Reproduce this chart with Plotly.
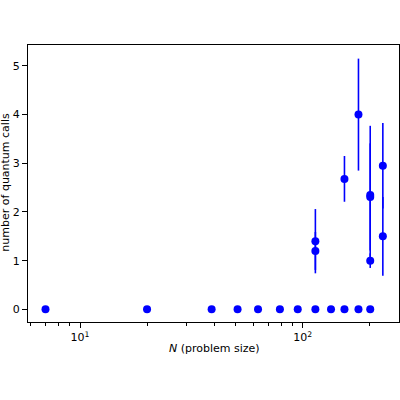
import plotly.graph_objects as go

# problem sizes and mean number of quantum calls with std error
N = [7, 20, 39, 51, 63, 79, 95, 114, 134, 154, 178, 201,
     114, 114, 154, 178, 201, 201, 201, 229, 229]
calls = [0, 0, 0, 0, 0, 0, 0, 0, 0, 0, 0, 0,
         1.40, 1.20, 2.68, 4.00, 2.35, 2.31, 1.00, 2.95, 1.50]
err = [0, 0, 0, 0, 0, 0, 0, 0, 0, 0, 0, 0,
       0.66, 0.39, 0.47, 1.15, 1.42, 1.10, 0.15, 0.88, 0.81]

x_major = [10, 100]
x_major_text = ["10<sup>1</sup>", "10<sup>2</sup>"]
x_minor = [6, 7, 8, 9, 20, 30, 40, 50, 60, 70, 80, 90, 200]
y_ticks = [0, 1, 2, 3, 4, 5]

x_title = "<i>N</i> (problem size)"
y_title = "number of quantum calls"

fig = go.Figure()
fig.add_trace(go.Scatter(
    x=N, y=calls, mode="markers",
    marker=dict(color="#0000ff", size=8, line=dict(width=0)),
    error_y=dict(type="data", array=err, visible=True, color="#0000ff",
                 thickness=1.6, width=0),
    showlegend=False, cliponaxis=False,
))

font = dict(family="DejaVu Sans", size=11, color="black")
fig.update_layout(
    width=400, height=400,
    margin=dict(l=28, r=1, t=45, b=78, autoexpand=False),
    paper_bgcolor="white", plot_bgcolor="white",
    font=font,
    xaxis=dict(
        type="log", range=[0.7665, 2.4324], automargin=False,
        tickmode="array", tickvals=x_major, ticktext=x_major_text,
        ticks="outside", ticklen=5, tickwidth=1, tickcolor="black",
        minor=dict(tickmode="array", tickvals=x_minor, ticks="outside",
                   ticklen=3, tickwidth=0.8, tickcolor="black", showgrid=False),
        showgrid=False, zeroline=False,
        showline=True, linecolor="black", linewidth=1, mirror=True,
    ),
    yaxis=dict(
        range=[-0.26, 5.43], automargin=False,
        tickmode="array", tickvals=y_ticks,
        ticks="outside", ticklen=5, tickwidth=1, tickcolor="black",
        showgrid=False, zeroline=False,
        showline=True, linecolor="black", linewidth=1, mirror=True,
    ),
    annotations=[
        dict(text=x_title, xref="paper", yref="paper", x=0.503, y=-0.094,
             xanchor="center", yanchor="middle", showarrow=False, font=font),
        dict(text=y_title, xref="paper", yref="paper", x=-0.0606, y=0.505,
             xanchor="center", yanchor="middle", textangle=-90,
             showarrow=False, font=font),
    ],
)

fig.write_html(
    "out.html",
    config={"displayModeBar": False},
    post_script="document.body.style.margin='0';"
                "document.documentElement.style.overflow='hidden';",
)
